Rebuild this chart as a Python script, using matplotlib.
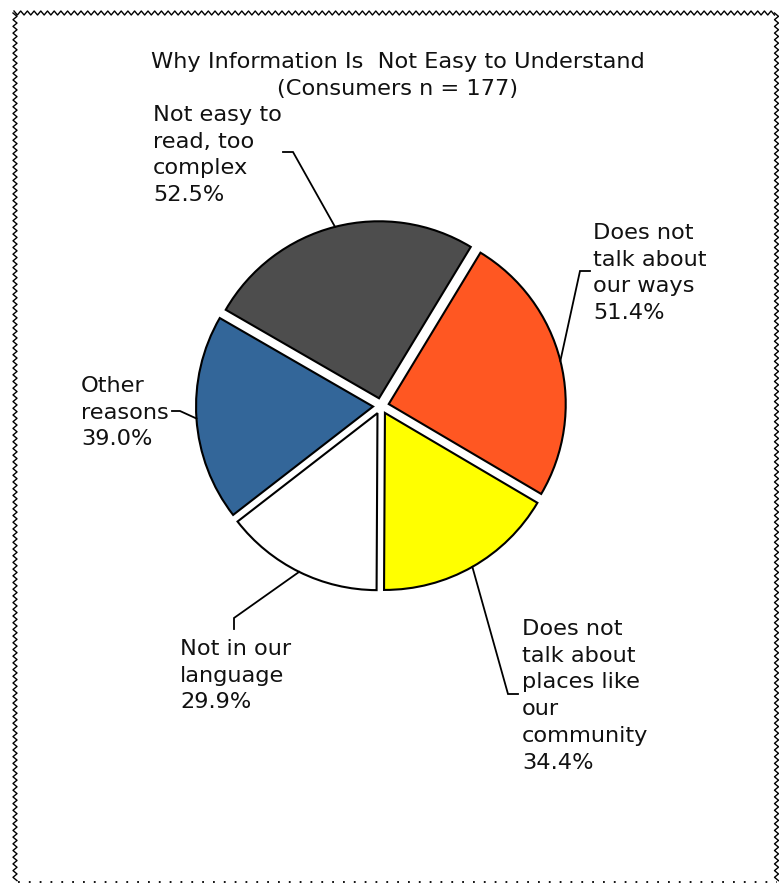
import numpy as np
import matplotlib
matplotlib.use("Agg")
import matplotlib.pyplot as plt

# Survey results (multiple responses allowed, so the pie normalises the shares)
categories = [
    "Not easy to\nread, too\ncomplex",
    "Does not\ntalk about\nour ways",
    "Does not\ntalk about\nplaces like\nour\ncommunity",
    "Not in our\nlanguage",
    "Other\nreasons",
]
values = [52.5, 51.4, 34.4, 29.9, 39.0]
colors = ["#4D4D4D", "#FF5722", "#FFFF00", "#FFFFFF", "#336699"]
title = "Why Information Is  Not Easy to Understand\n(Consumers n = 177)"

W, H = 779, 884
CX, CY, R = 381, 406, 177  # pie centre and radius in pixels (from top-left)


def px(x, y):
    """Pixel position (top-left origin) -> data coordinates of the pie axes."""
    return (x - CX) / R, (CY - y) / R


fig = plt.figure(figsize=(W / 100, H / 100), dpi=100)
ax = fig.add_axes([0, 0, 1, 1])

wedges, _ = ax.pie(
    values,
    colors=colors,
    startangle=150,
    counterclock=False,
    explode=[0.045] * len(values),
    radius=1.0,
    wedgeprops=dict(edgecolor="black", linewidth=1.5),
)
ax.set_aspect("auto")
ax.set_xlim(-CX / R, (W - CX) / R)
ax.set_ylim(-(H - CY) / R, CY / R)
ax.axis("off")

FS = 16.2
LS = 1.42
ax.text(*px(397.5, 52), title, ha="center", va="top", fontsize=FS,
        linespacing=LS, color="#111111")

# label anchor (top-left of text) and leader elbow/end points, in pixels
label_xy = [(153, 105), (593, 223), (522, 619), (180, 639), (81, 376)]
leader_pts = [
    [(293, 152), (283, 152)],
    [(580, 271), (590, 271)],
    [(508, 694), (518, 694)],
    [(234, 618), (234, 629)],
    [(180, 411), (172, 411)],
]

for w, cat, val, (lx, ly), pts in zip(wedges, categories, values, label_xy, leader_pts):
    mid = np.deg2rad((w.theta1 + w.theta2) / 2)
    ax0 = w.center[0] + w.r * np.cos(mid)
    ay0 = w.center[1] + w.r * np.sin(mid)
    xs = [ax0] + [px(*p)[0] for p in pts]
    ys = [ay0] + [px(*p)[1] for p in pts]
    ax.plot(xs, ys, color="black", linewidth=1.3, solid_joinstyle="miter")
    ax.text(*px(lx, ly), f"{cat}\n{val:.1f}%", ha="left", va="top",
            fontsize=FS, linespacing=LS, color="#111111")

# Decorative zigzag frame (dotted along the bottom)
frame = fig.add_axes([0, 0, 1, 1], zorder=-1)
frame.set_xlim(0, W)
frame.set_ylim(H, 0)
frame.axis("off")
period, amp = 6.7, 2.0


def zig(start, stop):
    n = int((stop - start) / (period / 2)) + 1
    t = start + np.arange(n) * period / 2
    off = amp * np.where(np.arange(n) % 2 == 0, -1, 1)
    return t, off


t, o = zig(14, 777)
frame.plot(t, 13 + o, color="black", lw=1.0)
t, o = zig(13, 882)
frame.plot(15 + o, t, color="black", lw=1.0)
frame.plot(776.5 + o, t, color="black", lw=1.0)
frame.plot([18, 777], [882, 882], color="black", lw=1.3, linestyle=(0, (1, 5)))

fig.savefig("out.png", dpi=100)
